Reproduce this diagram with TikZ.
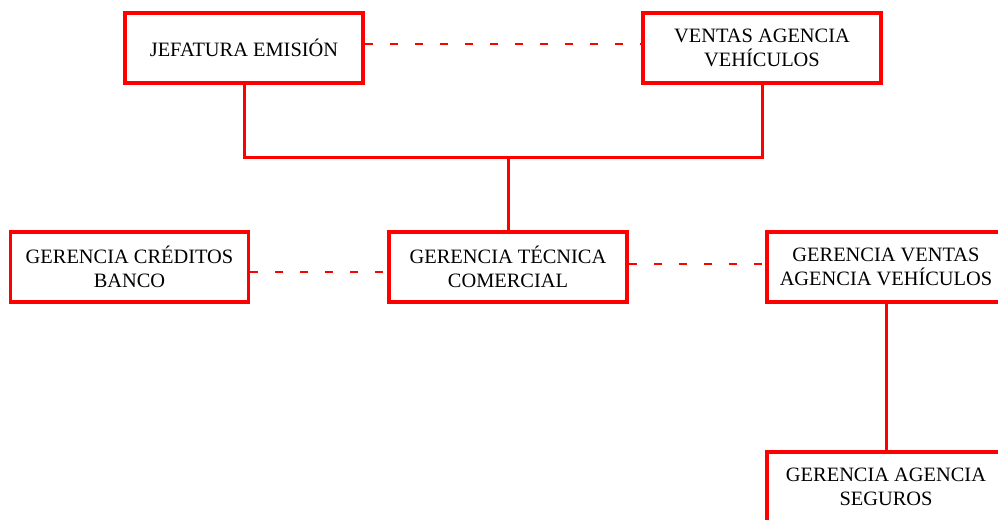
\documentclass[tikz,border=0pt]{standalone}
\usepackage{fontspec}
\setmainfont{Liberation Serif}
\definecolor{boxred}{RGB}{255,0,0}
\begin{document}
\begin{tikzpicture}[x=0.5pt,y=-0.5pt,
  orgbox/.style={draw=boxred,line width=1.6pt,fill=white,minimum width=119pt,minimum height=35pt,
    inner sep=0pt,align=center,font=\fontsize{10.2}{12}\selectfont,text=black},
  solidline/.style={draw=boxred,line width=1.5pt},
  dashline/.style={draw=boxred,line width=1pt,dash pattern=on 4pt off 8.5pt}]
\useasboundingbox (0,0) rectangle (998,520);
\node[orgbox] (jef) at (244,48) {JEFATURA EMISIÓN};
\node[orgbox] (ven) at (762,48) {VENTAS AGENCIA\\VEHÍCULOS};
\node[orgbox] (cre) at (129.5,267) {GERENCIA CRÉDITOS\\BANCO};
\node[orgbox] (tec) at (508,267) {GERENCIA TÉCNICA\\COMERCIAL};
\node[orgbox] (gvv) at (886,267) {GERENCIA VENTAS\\AGENCIA VEHÍCULOS};
\node[orgbox] (seg) at (886,487) {GERENCIA AGENCIA\\SEGUROS};
\coordinate (bus) at (508,157);
\draw[solidline] (jef.south) |- (bus) -| (ven.south);
\draw[solidline] (bus) -- (tec.north);
\draw[solidline] (gvv.south) -- (seg.north);
\draw[dashline] ([yshift=2pt]jef.east) -- ([yshift=2pt]ven.west);
\draw[dashline] ([yshift=-2.5pt]cre.east) -- ([yshift=-2.5pt]tec.west);
\draw[dashline] ([yshift=1.5pt]tec.east) -- ([yshift=1.5pt]gvv.west);
\end{tikzpicture}
\end{document}
